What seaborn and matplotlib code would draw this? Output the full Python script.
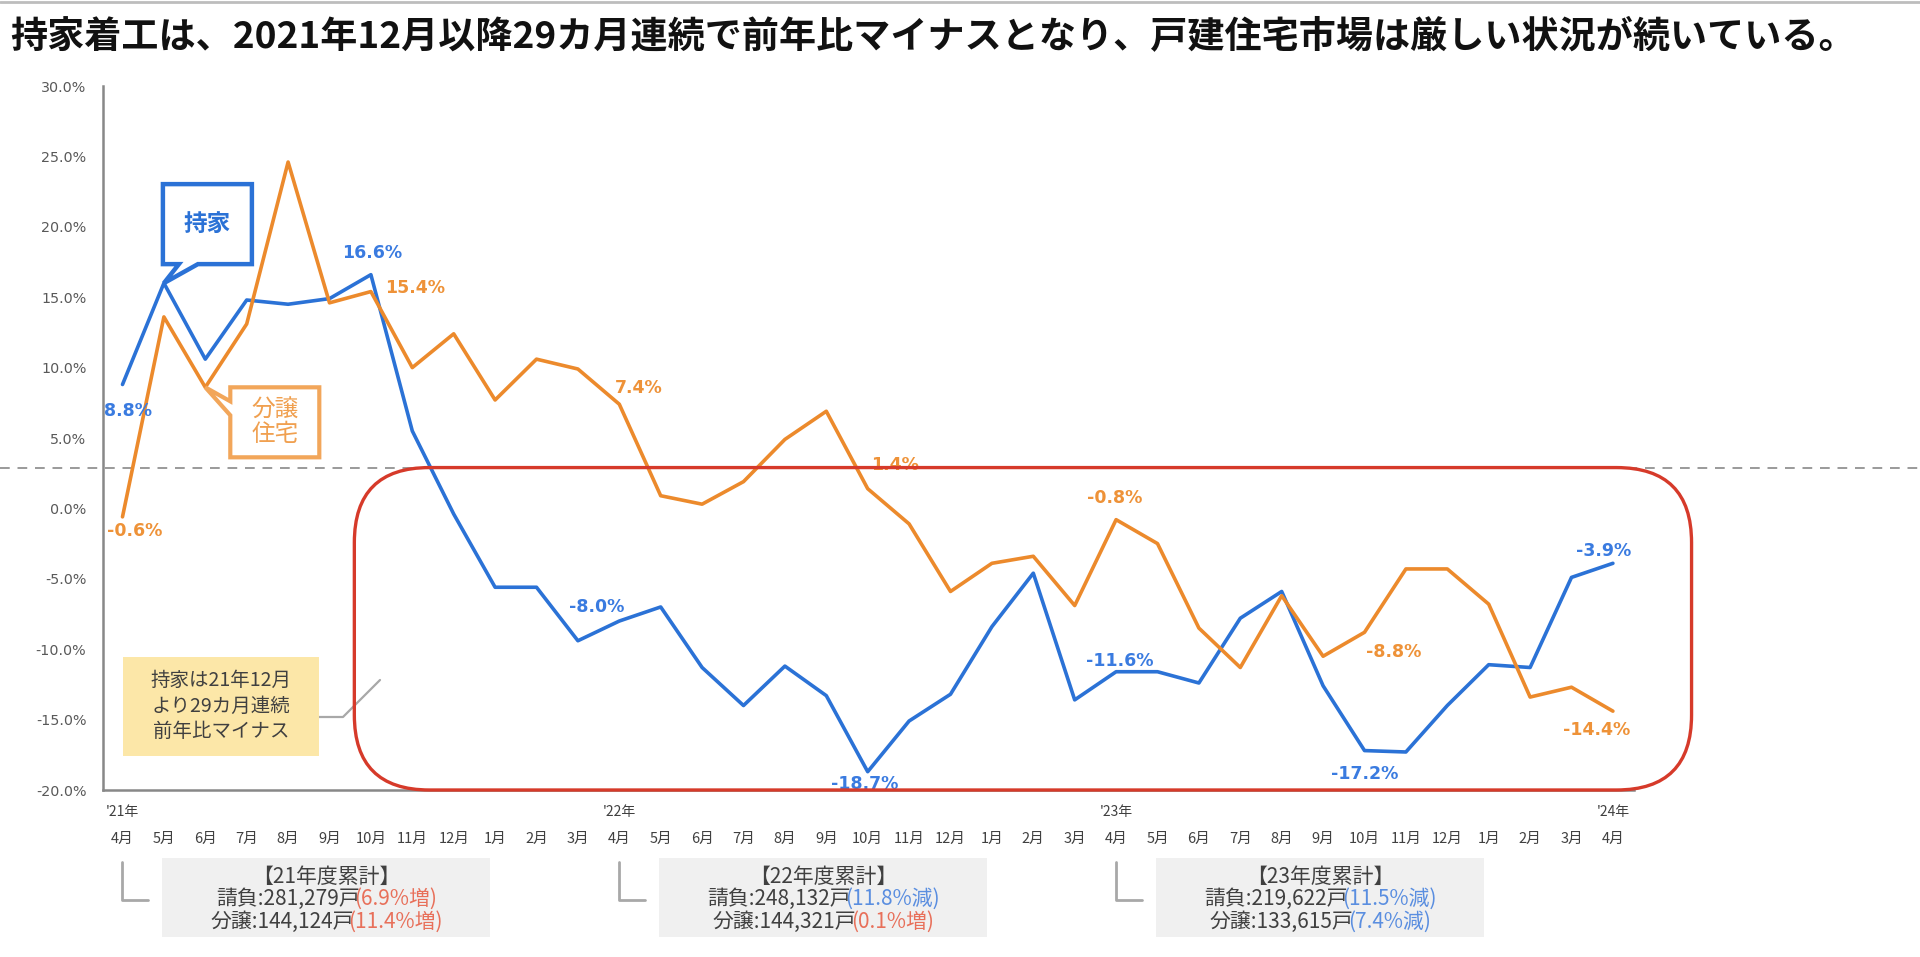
import numpy as np
import pandas as pd
import matplotlib
matplotlib.use("Agg")
import matplotlib.pyplot as plt
import seaborn as sns
from matplotlib.patches import FancyBboxPatch, Rectangle, Polygon
from matplotlib.lines import Line2D
from matplotlib.transforms import IdentityTransform, blended_transform_factory
from matplotlib.offsetbox import TextArea, HPacker, AnnotationBbox

# ---------------- data ----------------
TITLE = "持家着工は、2021年12月以降29カ月連続で前年比マイナスとなり、戸建住宅市場は厳しい状況が続いている。"
MONTHS = (["4月", "5月", "6月", "7月", "8月", "9月", "10月", "11月", "12月", "1月", "2月", "3月"] * 3) + ["4月"]
YEAR_LABELS = ["'21年", "'22年", "'23年", "'24年"]
YEAR_POS = [0, 12, 24, 36]
SERIES = ["持家", "分譲住宅"]
MOCHIIE = [8.8, 16.0, 10.6, 14.8, 14.5, 14.9, 16.6, 5.5, -0.4, -5.6, -5.6, -9.4,
           -8.0, -7.0, -11.3, -14.0, -11.2, -13.3, -18.7, -15.1, -13.2, -8.4, -4.6, -13.6,
           -11.6, -11.6, -12.4, -7.8, -5.9, -12.6, -17.2, -17.3, -14.0, -11.1, -11.3, -4.9,
           -3.9]
BUNJO = [-0.6, 13.6, 8.6, 13.1, 24.6, 14.6, 15.4, 10.0, 12.4, 7.7, 10.6, 9.9,
         7.4, 0.9, 0.3, 1.9, 4.9, 6.9, 1.4, -1.1, -5.9, -3.9, -3.4, -6.9,
         -0.8, -2.5, -8.5, -11.3, -6.2, -10.5, -8.8, -4.3, -4.3, -6.8, -13.4, -12.7,
         -14.4]
LABEL_IDX = [0, 6, 12, 18, 24, 30, 36]
Y_TICKS = [-20, -15, -10, -5, 0, 5, 10, 15, 20, 25, 30]
REF_LINE = 2.9
NOTE_TEXT = "持家は21年12月\nより29カ月連続\n前年比マイナス"
FY_TITLES = ["【21年度累計】", "【22年度累計】", "【23年度累計】"]
FY_POS = [0, 12, 24]
UKEOI_UNITS = ["281,279", "248,132", "219,622"]
UKEOI_CHG = ["6.9%増", "11.8%減", "11.5%減"]
BUNJO_UNITS = ["144,124", "144,321", "133,615"]
BUNJO_CHG = ["11.4%増", "0.1%増", "7.4%減"]

# ---------------- style ----------------
W, H, DPI = 1920, 957, 100
BLUE = "#2b72d6"
ORANGE = "#ec8a2c"
BLUE_TXT = "#3a7be0"
ORANGE_TXT = "#ee9238"
RED_TXT = "#e8705a"
BLUE_TXT2 = "#5a8ee0"
GRAY_TXT = "#404040"
JP = ["Noto Sans CJK JP", "DejaVu Sans"]

sns.set_theme(style="white")
plt.rcParams["font.family"] = JP

fig = plt.figure(figsize=(W / DPI, H / DPI), dpi=DPI)
fig.patch.set_facecolor("white")
ax = fig.add_axes([103 / W, 167 / H, 1530.6 / W, 704 / H])

n = len(MONTHS)
idx = np.arange(n)
df = pd.DataFrame({
    "idx": np.concatenate([idx, idx]),
    "value": MOCHIIE + BUNJO,
    "series": [SERIES[0]] * n + [SERIES[1]] * n,
})
sns.lineplot(data=df, x="idx", y="value", hue="series", hue_order=SERIES,
             palette={SERIES[0]: BLUE, SERIES[1]: ORANGE}, linewidth=2.6,
             legend=False, ax=ax, zorder=5)

ax.set_xlim(-0.471, 36.5)
ax.set_ylim(min(Y_TICKS), max(Y_TICKS))
ax.set_yticks(Y_TICKS)
ax.set_yticklabels([f"{v:.1f}%" for v in Y_TICKS], family="DejaVu Sans",
                   fontsize=10.3, color="#595959")
ax.tick_params(axis="y", length=0, pad=12)
ax.set_xticks(idx)
ax.set_xticklabels(MONTHS, fontsize=10.5, color=GRAY_TXT)
ax.tick_params(axis="x", length=0, pad=30)
ax.set_xlabel("")
ax.set_ylabel("")
for s in ["top", "right"]:
    ax.spines[s].set_visible(False)
for s in ["left", "bottom"]:
    ax.spines[s].set_color("#888888")
    ax.spines[s].set_linewidth(1.8)
ax.set_facecolor("white")

# year labels
for p, lab in zip(YEAR_POS, YEAR_LABELS):
    ax.annotate(lab, xy=(p, min(Y_TICKS)), xycoords="data", xytext=(0, -22),
                textcoords="offset pixels", ha="center", va="center",
                fontsize=10, color=GRAY_TXT, annotation_clip=False)

# dashed reference line across the full figure width
ax.plot([0, 1], [REF_LINE, REF_LINE],
        transform=blended_transform_factory(fig.transFigure, ax.transData),
        color="#9a9a9a", lw=1.4, ls=(0, (5, 4)), clip_on=False, zorder=3)

# data labels
off_b = {0: (6, -27), 6: (1, 22), 12: (-23, 14), 18: (-3, -12), 24: (4, 11), 30: (0, -23), 36: (-9, 12)}
off_o = {0: (12, -14), 6: (44, 4), 12: (19, 16), 18: (27, 24), 24: (-1, 22), 30: (29, -20), 36: (-16, -19)}
for i in LABEL_IDX:
    ax.annotate(f"{MOCHIIE[i]:.1f}%", xy=(i, MOCHIIE[i]), xytext=off_b[i],
                textcoords="offset pixels", ha="center", va="center",
                fontsize=12.5, fontweight="bold", family="DejaVu Sans",
                color=BLUE_TXT, zorder=8, annotation_clip=False)
    ax.annotate(f"{BUNJO[i]:.1f}%", xy=(i, BUNJO[i]), xytext=off_o[i],
                textcoords="offset pixels", ha="center", va="center",
                fontsize=12.5, fontweight="bold", family="DejaVu Sans",
                color=ORANGE_TXT, zorder=8, annotation_clip=False)

fig.canvas.draw()
ID = IdentityTransform()


def dpx(x, y):
    return ax.transData.transform((x, y))


def ty(y_top):
    return H - y_top


# red rounded box
xl, yb = dpx(5.6, min(Y_TICKS))
xr, yt = dpx(37.9, REF_LINE)
fig.patches.append(FancyBboxPatch((xl, yb), xr - xl, yt - yb,
                                  boxstyle="round,pad=0,rounding_size=75",
                                  transform=ID, fill=False, ec="#d63a2a", lw=2.4,
                                  zorder=6, figure=fig))

# speech bubble: 持家
tx, tyy = dpx(1, MOCHIIE[1])
bl, br, btop, bbot = tx - 1, tx + 88, tyy + 99, tyy + 19
poly = [(bl, bbot), (tx + 15, bbot), (tx, tyy), (tx + 34, bbot), (br, bbot), (br, btop), (bl, btop)]
fig.patches.append(Polygon(poly, closed=True, transform=ID, fc="white", ec=BLUE,
                           lw=3.2, joinstyle="miter", zorder=7, figure=fig))
fig.text((bl + br) / 2 / W, (btop + bbot) / 2 / H, SERIES[0], ha="center", va="center",
         fontsize=17, fontweight="bold", color=BLUE, zorder=8)

# speech bubble: 分譲住宅
ox, oy = dpx(2, BUNJO[2])
bl2, br2 = ox + 25, ox + 114
bt2, bb2 = oy, oy - 70
poly2 = [(bl2, bt2), (br2, bt2), (br2, bb2), (bl2, bb2), (bl2, oy - 28), (ox, oy), (bl2, oy - 14)]
fig.patches.append(Polygon(poly2, closed=True, transform=ID, fc="white", ec="#f2a65a",
                           lw=3.0, joinstyle="miter", zorder=7, figure=fig))
fig.text((bl2 + br2) / 2 / W, (bt2 + bb2) / 2 / H, "分譲\n住宅", ha="center", va="center",
         fontsize=17, color="#f0a050", linespacing=1.1, zorder=8)

# yellow note
fig.patches.append(Rectangle((123, ty(756)), 196, 99, transform=ID, fc="#fce7a8",
                             ec="none", zorder=4, figure=fig))
fig.text(221 / W, ty(706) / H, NOTE_TEXT, ha="center", va="center", fontsize=14,
         color=GRAY_TXT, linespacing=1.3, zorder=5)
fig.lines.append(Line2D([319, 343, 380], [ty(717), ty(717), ty(680)], transform=ID,
                        color="#a8a8a8", lw=1.6, figure=fig))

# fiscal-year summary boxes
FS = 15
for k, p in enumerate(FY_POS):
    x0, _ = dpx(p, 0)
    fig.lines.append(Line2D([x0, x0, x0 + 26], [ty(862), ty(900), ty(900)], transform=ID,
                            color="#a8a8a8", lw=2.0, figure=fig))
    fig.patches.append(Rectangle((x0 + 40, ty(937)), 328, 79, transform=ID, fc="#f0f0f0",
                                 ec="none", zorder=1, figure=fig))
    cx = x0 + 204
    fig.text(cx / W, ty(877) / H, FY_TITLES[k], ha="center", va="center", fontsize=FS,
             color=GRAY_TXT)
    for yy, lab, units, chg in [(899, "請負", UKEOI_UNITS[k], UKEOI_CHG[k]),
                                (922, "分譲", BUNJO_UNITS[k], BUNJO_CHG[k])]:
        col = RED_TXT if chg.endswith("増") else BLUE_TXT2
        tp = dict(fontsize=FS, color=GRAY_TXT, family=JP)
        tpc = dict(fontsize=FS, color=col, family=JP)
        pack = HPacker(children=[TextArea(f"{lab}:{units}戸", textprops=tp),
                                 TextArea(f"({chg})", textprops=tpc)],
                       pad=0, sep=-4, align="baseline")
        ab = AnnotationBbox(pack, (cx, ty(yy)), xycoords="figure pixels",
                            frameon=False, box_alignment=(0.5, 0.5), pad=0)
        fig.add_artist(ab)

# title and top rule
fig.lines.append(Line2D([0, W], [H - 1.5, H - 1.5], transform=ID, color="#bdbdbd", lw=2,
                        figure=fig))
fig.text(10 / W, ty(37) / H, TITLE, ha="left", va="center", fontsize=26.7,
         fontweight="bold", color="#111111")

fig.savefig("out.png", dpi=DPI, facecolor="white")
